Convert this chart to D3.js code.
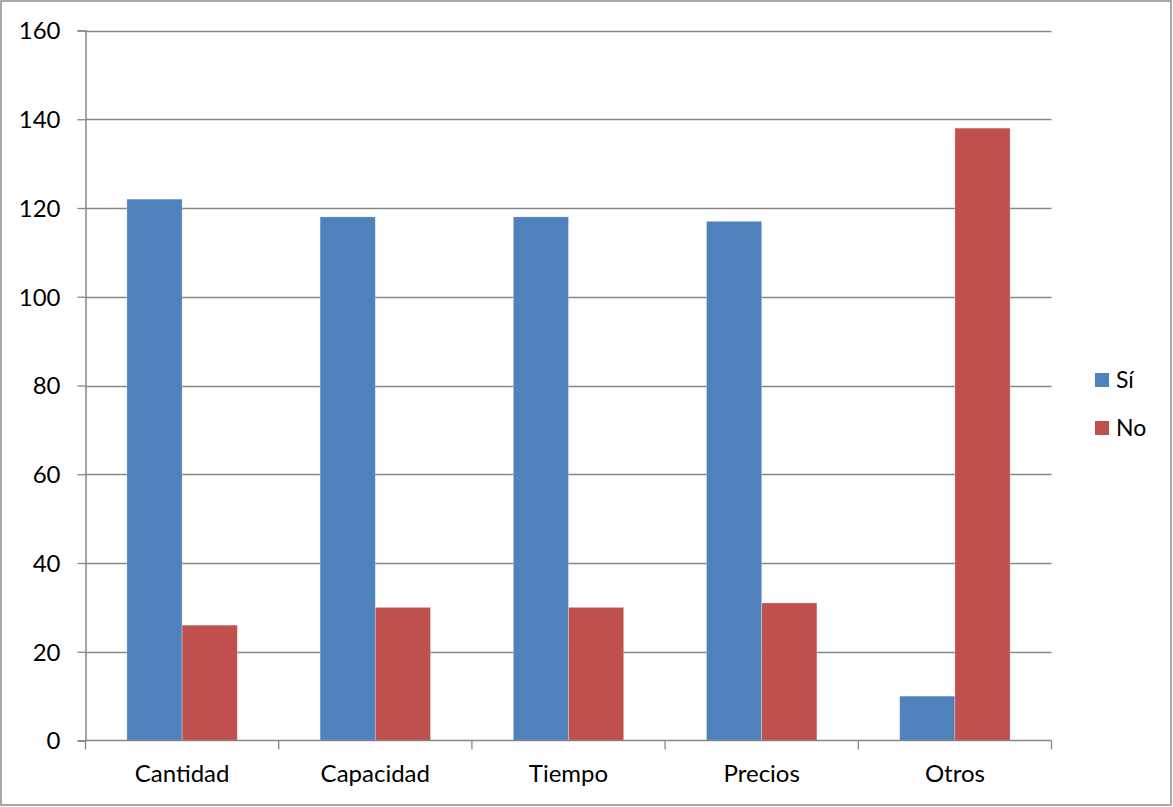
<!DOCTYPE html>
<html>
<head>
<meta charset="utf-8">
<script src="https://cdn.jsdelivr.net/npm/d3@7"></script>
<style>
  html, body { margin: 0; padding: 0; background: #fff; }
  svg { display: block; }
  text { font-family: Lato, "Open Sans", sans-serif; fill: #000; }
</style>
</head>
<body>
<svg id="chart" width="1173" height="807"></svg>
<script>
// Survey answers per category
const categories = ["Cantidad", "Capacidad", "Tiempo", "Precios", "Otros"];
const seriesNames = ["Sí", "No"];
const siValues = [122, 118, 118, 117, 10];
const noValues = [26, 30, 30, 31, 138];
const yTicks = [0, 20, 40, 60, 80, 100, 120, 140, 160];
const colors = ["#4F81BD", "#C0504D"];

const rows = categories.map((c, i) => ({ cat: c, values: [siValues[i], noValues[i]] }));

const svg = d3.select("#chart");
const W = 1173, H = 807;

// outer chart border
svg.append("rect")
  .attr("x", 1).attr("y", 1).attr("width", W - 3).attr("height", H - 3)
  .attr("fill", "#fff").attr("stroke", "#8c8c8c").attr("stroke-width", 1.5);

const plot = { left: 85.5, right: 1051.5, top: 30.5, bottom: 740.5 };

const x = d3.scaleBand().domain(categories).range([plot.left, plot.right]).paddingInner(0).paddingOuter(0);
const bandW = x.bandwidth();
const x1 = d3.scaleBand().domain(seriesNames).range([bandW * 0.75 / 3.5, bandW * 2.75 / 3.5]);

const y = d3.scaleLinear().domain([0, 160]).range([plot.bottom, plot.top]);

const gridColor = "#878787";

// horizontal gridlines
svg.append("g")
  .selectAll("line")
  .data(yTicks.filter(t => t > 0))
  .join("line")
  .attr("x1", plot.left).attr("x2", plot.right)
  .attr("y1", d => Math.round(y(d)) + 0.5).attr("y2", d => Math.round(y(d)) + 0.5)
  .attr("stroke", gridColor).attr("stroke-width", 1.3);

// bars
const groups = svg.append("g")
  .selectAll("g")
  .data(rows)
  .join("g")
  .attr("transform", d => `translate(${x(d.cat)},0)`);

groups.selectAll("rect")
  .data(d => d.values.map((v, i) => ({ key: seriesNames[i], v, i })))
  .join("rect")
  .attr("x", d => x1(d.key))
  .attr("width", x1.bandwidth())
  .attr("y", d => y(d.v))
  .attr("height", d => y(0) - y(d.v))
  .attr("fill", d => colors[d.i])
  .attr("stroke", "rgba(255,255,255,0.35)")
  .attr("stroke-width", 0.8);

// y axis
const yAxis = d3.axisLeft(y).tickValues(yTicks).tickSize(8).tickPadding(17).tickFormat(d3.format("d"));
const gy = svg.append("g").attr("transform", `translate(${plot.left},0)`).call(yAxis);
gy.select(".domain").attr("stroke", gridColor).attr("stroke-width", 1.5);
gy.selectAll(".tick line").attr("stroke", gridColor).attr("stroke-width", 1.3);
gy.selectAll(".tick text").style("font-size", "24px").attr("fill", "#000").attr("dy", "0.35em");

// x axis with ticks at band boundaries
const xAxisLine = svg.append("g");
xAxisLine.append("line")
  .attr("x1", plot.left).attr("x2", plot.right)
  .attr("y1", plot.bottom).attr("y2", plot.bottom)
  .attr("stroke", gridColor).attr("stroke-width", 1.5);
const bounds = categories.map(c => x(c)).concat([x(categories[categories.length - 1]) + bandW]);
xAxisLine.selectAll("line.tk")
  .data(bounds)
  .join("line").attr("class", "tk")
  .attr("x1", d => d).attr("x2", d => d)
  .attr("y1", plot.bottom).attr("y2", plot.bottom + 9)
  .attr("stroke", gridColor).attr("stroke-width", 1.3);
xAxisLine.selectAll("text")
  .data(categories)
  .join("text")
  .attr("x", d => x(d) + bandW / 2)
  .attr("y", 774)
  .attr("dy", "0.35em")
  .attr("text-anchor", "middle")
  .style("font-size", "24px")
  .text(d => d);

// legend
const legend = svg.append("g").attr("transform", "translate(1095,373)");
const li = legend.selectAll("g")
  .data(seriesNames)
  .join("g")
  .attr("transform", (d, i) => `translate(0,${i * 48})`);
li.append("rect").attr("width", 14).attr("height", 14).attr("fill", (d, i) => colors[i]);
li.append("text").attr("x", 21).attr("y", 7).attr("dy", "0.35em")
  .style("font-size", "23px").text(d => d);
</script>
</body>
</html>
